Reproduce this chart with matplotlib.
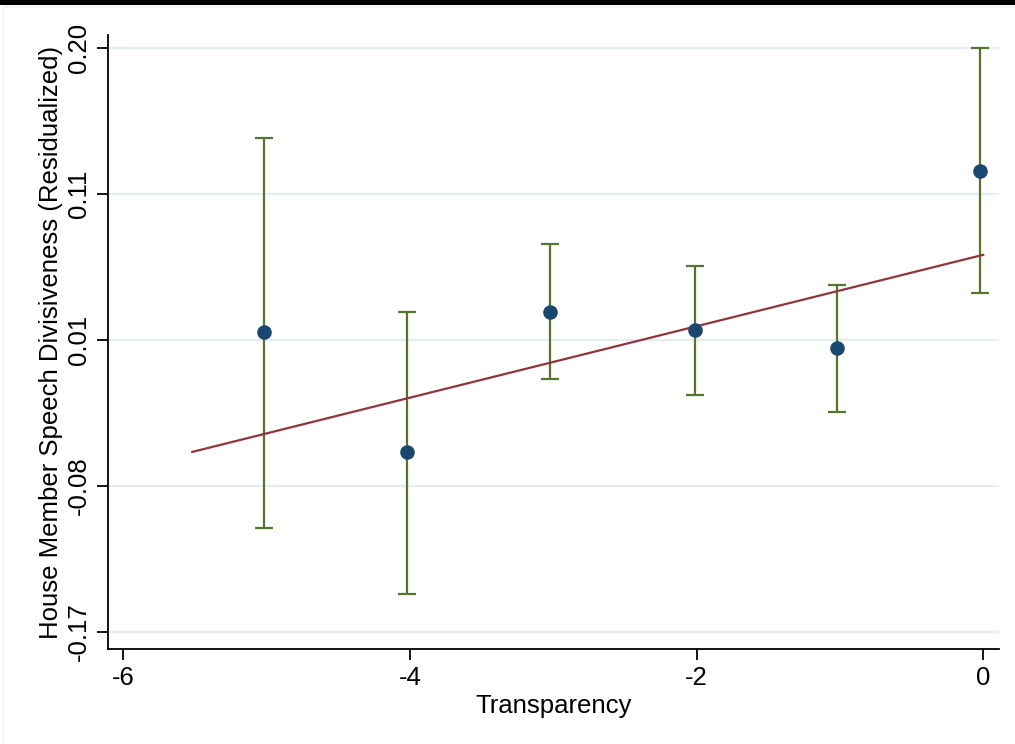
import matplotlib
matplotlib.use('Agg')
import matplotlib.pyplot as plt
from matplotlib.patches import Rectangle

# Binned means of residualized divisiveness by transparency
transparency = [-5.02, -4.02, -3.02, -2.01, -1.02, -0.02]
divisiveness = [0.020, -0.056, 0.033, 0.021, 0.010, 0.122]
ci_low = [-0.104, -0.146, -0.010, -0.020, -0.031, 0.045]
ci_high = [0.143, 0.033, 0.076, 0.062, 0.050, 0.200]

# Linear fit endpoints
fit_x = [-5.52, 0.0]
fit_y = [-0.056, 0.069]

# Axis ticks
x_ticks = [-6, -4, -2, 0]
y_ticks = [-0.17, -0.0775, 0.015, 0.1075, 0.20]
y_tick_labels = ['-0.17', '-0.08', '0.01', '0.11', '0.20']

navy = '#1a476f'
green = '#55752f'
maroon = '#90353b'
grid_color = '#e4eef1'

plt.rcParams['font.family'] = ['Liberation Sans', 'DejaVu Sans']

W, H = 1015, 744
fig = plt.figure(figsize=(W / 100, H / 100), dpi=100)
ax = fig.add_axes([108 / W, 1 - 649 / H, (999 - 108) / W, (649 - 35) / H])

# top frame strip and faint graph-region border
fig.patches.append(Rectangle((0, 1 - 5 / H), 1, 5 / H, transform=fig.transFigure,
                             facecolor='black', edgecolor='none'))
fig.patches.append(Rectangle((3 / W, -0.01), 1.0, 1 - 6 / H + 0.01, transform=fig.transFigure,
                             facecolor='none', edgecolor='#eef3f5', linewidth=1))

for yt in y_ticks:
    ax.axhline(yt, color=grid_color, linewidth=1.6, zorder=0)

yerr = [[d - lo for d, lo in zip(divisiveness, ci_low)],
        [hi - d for d, hi in zip(divisiveness, ci_high)]]
ax.errorbar(transparency, divisiveness, yerr=yerr, fmt='none', ecolor=green,
            elinewidth=1.6, capsize=6.5, capthick=1.6, zorder=2)
ax.plot(fit_x, fit_y, color=maroon, linewidth=1.6, zorder=3)
ax.scatter(transparency, divisiveness, s=110, color=navy, zorder=4, linewidths=0)

ax.set_xlim(-6.108, 0.11)
ax.set_ylim(-0.181, 0.2084)
ax.set_xticks(x_ticks)
ax.set_xticklabels([str(t) for t in x_ticks])
ax.set_yticks(y_ticks)
ax.set_yticklabels(y_tick_labels, rotation=90, va='center')

for side in ['top', 'right']:
    ax.spines[side].set_visible(False)
for side in ['left', 'bottom']:
    ax.spines[side].set_linewidth(1.3)

ax.tick_params(axis='both', labelsize=18.5, width=1.3, length=8, pad=4)
ax.set_xlabel('Transparency', fontsize=18.5, labelpad=3)
ax.set_ylabel('House Member Speech Divisiveness (Residualized)', fontsize=18.5, labelpad=3)

fig.savefig('out.png', dpi=100)
